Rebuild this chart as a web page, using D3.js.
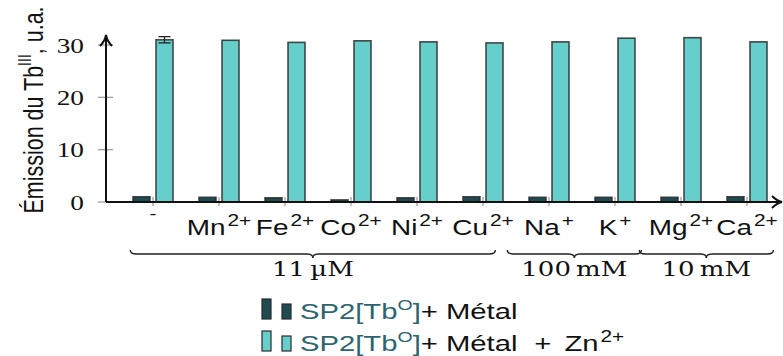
<!DOCTYPE html>
<html><head><meta charset="utf-8">
<script src="https://cdn.jsdelivr.net/npm/d3@7"></script>
<style>body{margin:0;background:#fff}svg{display:block}</style>
</head><body><svg id="c" width="783" height="356"></svg>
<script>
// ---- data ----
const ionNames   = ["", "Mn", "Fe", "Co", "Ni", "Cu", "Na", "K", "Mg", "Ca"];
const ionCharges = ["-", "2+", "2+", "2+", "2+", "2+", "+", "+", "2+", "2+"];
const metalOnly  = [1.0, 0.9, 0.8, 0.4, 0.8, 1.0, 0.9, 0.9, 0.9, 1.0];
const metalZn    = [31.0, 30.9, 30.5, 30.8, 30.6, 30.4, 30.6, 31.3, 31.4, 30.6];
const metalZnErr = [0.6, 0, 0, 0, 0, 0, 0, 0, 0, 0];
const yTicks = [0, 10, 20, 30];
const groupLabels = ["11\u2009\u00B5M", "100\u2009mM", "10\u2009mM"];
const groupFirst  = [0, 6, 8];
const groupLast   = [5, 7, 9];
const seriesNames = ["metal", "zn"];
const seriesColors = ["#1f4b53", "#66cecb"];

// ---- layout ----
const SX = 1.3; // horizontal stretch of the original figure
const svg = d3.select("#c");
const idx = d3.range(ionNames.length);
const x = d3.scaleBand().domain(idx).range([120, 780]).padding(0);
const xs = d3.scaleBand().domain(seriesNames).range([13, 53]).paddingInner(6/23);
const y = d3.scaleLinear().domain([0, 30]).range([202, 45]);
const x0 = 106;

// y ticks
svg.append("g").selectAll("line").data(yTicks).join("line")
  .attr("x1", x0 - 8).attr("x2", x0 + 7)
  .attr("y1", d => y(d)).attr("y2", d => y(d))
  .attr("stroke", "#999").attr("stroke-width", 1.2);
svg.append("g").selectAll("text").data(yTicks).join("text")
  .attr("transform", d => `translate(84,${y(d) + 7.5}) scale(${SX},1)`)
  .attr("text-anchor", "end")
  .attr("font-family", "Liberation Serif, serif").attr("font-size", 21)
  .attr("fill", "#111").text(d => d);

// x ticks
svg.append("g").selectAll("line").data(idx).join("line")
  .attr("x1", i => x(i) + x.bandwidth() / 2).attr("x2", i => x(i) + x.bandwidth() / 2)
  .attr("y1", y(0) - 5).attr("y2", y(0) + 4)
  .attr("stroke", "#999").attr("stroke-width", 1.2);

// bars
const series = [metalOnly, metalZn];
series.forEach((vals, s) => {
  svg.append("g").selectAll("rect").data(vals).join("rect")
    .attr("x", (d, i) => x(i) + xs(seriesNames[s]))
    .attr("width", xs.bandwidth())
    .attr("y", d => y(d))
    .attr("height", d => y(0) - y(d))
    .attr("fill", seriesColors[s])
    .attr("stroke", "#2b2b2b").attr("stroke-width", 1.6).attr("stroke-opacity", 0.85);
});

// error bars
const eb = svg.append("g").attr("stroke", "#222").attr("stroke-width", 1.3);
metalZn.forEach((v, i) => {
  const e = metalZnErr[i];
  if (!e) return;
  const cx = x(i) + xs("zn") + xs.bandwidth() / 2;
  eb.append("line").attr("x1", cx).attr("x2", cx).attr("y1", y(v - e)).attr("y2", y(v + e));
  eb.append("line").attr("x1", cx - 6).attr("x2", cx + 6).attr("y1", y(v + e)).attr("y2", y(v + e));
  eb.append("line").attr("x1", cx - 6).attr("x2", cx + 6).attr("y1", y(v - e)).attr("y2", y(v - e));
});

// axes with arrows
const ax = svg.append("g").attr("stroke", "#111").attr("stroke-width", 2).attr("fill", "none");
ax.append("line").attr("x1", x0).attr("x2", 780).attr("y1", y(0)).attr("y2", y(0));
ax.append("line").attr("x1", x0).attr("x2", x0).attr("y1", y(0)).attr("y2", 37);
ax.append("path").attr("d", `M${x0-6},${46} Q${x0-1},${41} ${x0},${35} Q${x0+1},${41} ${x0+6},${46}`);
ax.append("path").attr("d", `M${772},${y(0)-6} Q${777},${y(0)-1} ${782},${y(0)} Q${777},${y(0)+1} ${772},${y(0)+6}`);

// category labels
const lab = svg.append("g").selectAll("text").data(idx).join("text")
  .attr("transform", i => `translate(${x(i) + x.bandwidth() / 2},235) scale(${SX},1)`)
  .attr("text-anchor", "middle")
  .attr("font-family", "Liberation Sans, Arial, sans-serif").attr("font-size", 21.5)
  .attr("fill", "#111");
lab.append("tspan").text(i => ionNames[i]);
lab.append("tspan").attr("dx", i => ionNames[i] ? 1.5 : 0)
  .attr("dy", i => ionNames[i] ? -9 : -16).attr("font-size", 16).text(i => ionCharges[i]);

// braces + group labels
const br = svg.append("g");
groupLabels.forEach((g, k) => {
  const step = x.step();
  const xa = x(groupFirst[k]) + step / 2 - 0.45 * step + (k === 0 ? 7 : -12);
  const xb = x(groupLast[k]) + step / 2 + 0.4 * step - (k === 0 ? 14 : 0);
  const xm = (xa + xb) / 2, yb = 254;
  br.append("path")
    .attr("d", `M${xa},${yb-4} Q${xa},${yb} ${xa+6},${yb} L${xm-6},${yb} Q${xm},${yb} ${xm},${yb+4} Q${xm},${yb} ${xm+6},${yb} L${xb-6},${yb} Q${xb},${yb} ${xb},${yb-4}`)
    .attr("fill", "none").attr("stroke", "#222").attr("stroke-width", 1.4);
  br.append("text")
    .attr("transform", `translate(${xm},276) scale(${SX},1)`)
    .attr("text-anchor", "middle")
    .attr("font-family", "DejaVu Serif, serif").attr("font-size", 20)
    .attr("fill", "#111").text(g);
});

// y label
const yl = svg.append("text")
  .attr("transform", `translate(43,110) scale(${SX},1) rotate(-90)`)
  .attr("text-anchor", "middle")
  .attr("font-family", "Liberation Sans, Arial, sans-serif").attr("font-size", 21.5)
  .attr("fill", "#111");
yl.append("tspan").text("\u00C9mission du Tb");
yl.append("tspan").attr("dy", -9).attr("font-size", 14).text("III");
yl.append("tspan").attr("dy", 9).text(", u.a.");

// legend
const legRows = [319, 351];
seriesNames.forEach((s, k) => {
  const yb = legRows[k];
  const g = svg.append("g");
  g.append("rect").attr("x", 262).attr("y", yb - 20).attr("width", 9).attr("height", 20)
    .attr("fill", seriesColors[k]).attr("stroke", "#2b2b2b").attr("stroke-width", 1.2);
  g.append("rect").attr("x", 282).attr("y", yb - 15).attr("width", 9).attr("height", 15)
    .attr("fill", seriesColors[k]).attr("stroke", "#2b2b2b").attr("stroke-width", 1.2);
  const t = g.append("text")
    .attr("transform", `translate(300,${yb}) scale(${SX},1)`)
    .attr("font-family", "Liberation Sans, Arial, sans-serif").attr("font-size", 22.5)
    .attr("fill", "#111");
  t.append("tspan").attr("fill", "#2e6470").text("SP2[Tb");
  t.append("tspan").attr("fill", "#2e6470").attr("dy", -9).attr("font-size", 15).text("O");
  t.append("tspan").attr("fill", "#2e6470").attr("dy", 9).text("]");
  t.append("tspan").text("+ M\u00E9tal");
  if (k === 1) {
    t.append("tspan").attr("dx", 13).text("+");
    t.append("tspan").attr("dx", 10).text("Zn");
    t.append("tspan").attr("dx", 1.5).attr("dy", -9).attr("font-size", 16).text("2+");
  }
});
</script></body></html>
